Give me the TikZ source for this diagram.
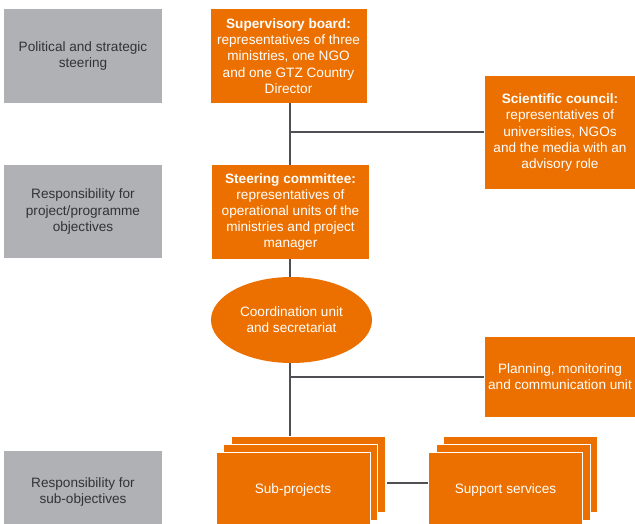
\documentclass[tikz,border=0pt]{standalone}
\usepackage{fontspec}
\setmainfont{Liberation Sans}
\usetikzlibrary{shapes.geometric}
\definecolor{gtzorange}{RGB}{236,112,0}
\definecolor{lvlgray}{RGB}{176,177,181}
\definecolor{linegray}{RGB}{80,80,84}
\begin{document}
\begin{tikzpicture}[x=1pt,y=-1pt,
  txt/.style={font=\fontsize{13.6}{16.2}\selectfont, align=center, inner sep=0pt},
  lvl/.style={txt, fill=lvlgray, text=black!80, minimum width=158pt},
  obox/.style={txt, fill=gtzorange, text=white},
  stackbox/.style={obox, draw=white, line width=0.8pt, minimum width=154pt, minimum height=76pt},
  conn/.style={draw=linegray, line width=2pt}]
\useasboundingbox (0,0) rectangle (635,524);
\clip (0,0) rectangle (635,524);
% level boxes
\node[lvl, minimum height=94pt] (g1) at (83,56) {Political and strategic\\steering};
\node[lvl, minimum height=93pt] (g2) at (83,211.5) {Responsibility for\\project/programme\\objectives};
\node[lvl, minimum height=82pt] (g3) at (83,492) {Responsibility for\\sub-objectives};
% orange boxes
\node[obox, minimum width=156pt, minimum height=94pt] (sup) at (288.5,56) {\textbf{Supervisory board:}\\representatives of three\\ministries, one NGO\\and one GTZ Country\\Director};
\node[obox, minimum width=151pt, minimum height=113pt] (sci) at (560,132.5) {\textbf{Scientific council:}\\representatives of\\universities, NGOs\\and the media with an\\advisory role};
\node[obox, minimum width=157pt, minimum height=94pt] (steer) at (290.5,212) {\textbf{Steering committee:}\\representatives of\\operational units of the\\ministries and project\\manager};
\node[obox, ellipse, minimum width=161pt, minimum height=86pt] (coord) at (291.5,320) {Coordination unit\\and secretariat};
\node[obox, minimum width=151pt, minimum height=80pt] (plan) at (560,377) {Planning, monitoring\\and communication unit};
% stacks
\node[stackbox] (sp3) at (308,474) {};
\node[stackbox] (sp2) at (300.5,482) {};
\node[stackbox] (sp1) at (293,490) {Sub-projects};
\node[stackbox] (ss3) at (520.5,474) {};
\node[stackbox] (ss2) at (513,482) {};
\node[stackbox] (ss1) at (505.5,490) {Support services};
% connectors
\coordinate (spine) at (289.5,0);
\draw[conn] (sup.south -| spine) -- (steer.north -| spine);
\coordinate (j1) at (spine |- sci.west);
\draw[conn] (j1) -- (sci.west);
\draw[conn] (steer.south -| spine) -- (coord.north -| spine);
\draw[conn] (coord.south -| spine) -- (sp3.north -| spine);
\coordinate (j2) at (spine |- plan.west);
\draw[conn] (j2) -- (plan.west);
\draw[conn] ([xshift=2pt]sp3.east |- 0,483) -- (ss1.west |- 0,483);
\end{tikzpicture}
\end{document}
